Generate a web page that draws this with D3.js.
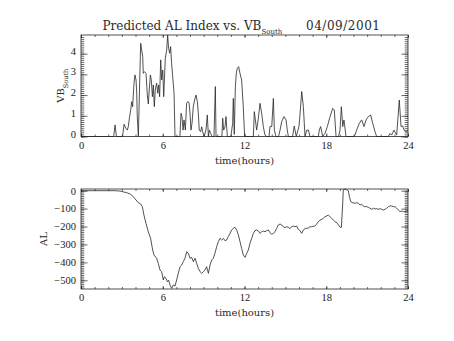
<!DOCTYPE html>
<html><head><meta charset="utf-8">
<script src="https://cdn.jsdelivr.net/npm/d3@7"></script>
<style>
html,body{margin:0;padding:0;background:#fff;}
svg{display:block;}
.tk text{font-family:"Liberation Serif",serif;font-size:10.5px;fill:#222;}
</style></head><body>
<svg id="c" width="454" height="341"></svg>
<script>
// ---- data ----
const titleMain = "Predicted AL Index vs. VB";
const titleSub = "South";
const titleDate = "04/09/2001";
const xLabel = "time(hours)";
const xMajorTicks = [0, 6, 12, 18, 24];
const vbTicks = [0, 1, 2, 3, 4];
const alTicks = [0, -100, -200, -300, -400, -500];

const vbHours = [0,2.4,2.5,2.6,3.05,3.16,3.30,3.40,3.47,3.55,3.65,3.72,3.79,3.89,3.96,4.04,4.09,4.13,4.21,4.28,4.33,4.38,4.45,4.53,4.57,4.65,4.77,4.87,4.94,5.01,5.09,5.16,5.24,5.31,5.38,5.45,5.55,5.63,5.70,5.77,5.85,5.92,6.0,6.07,6.12,6.19,6.29,6.36,6.43,6.51,6.58,6.65,6.73,6.83,6.90,7.26,7.34,7.41,7.49,7.56,7.66,7.75,7.83,7.93,8.0,8.07,8.15,8.24,8.34,8.44,8.54,8.61,8.68,8.78,8.86,8.93,9.03,9.17,9.27,9.35,9.42,9.52,9.61,9.76,9.86,9.91,10.34,10.40,10.47,10.57,10.64,10.74,11.0,11.13,11.18,11.25,11.33,11.40,11.47,11.57,11.67,11.79,11.91,12.01,12.65,12.72,12.80,12.89,13.0,13.14,13.26,13.38,13.50,13.63,13.80,13.87,14.0,14.12,14.19,14.31,14.5,14.61,14.73,14.90,15.05,15.14,15.22,15.53,15.65,15.8,16.0,16.07,16.2,16.32,16.44,16.57,16.69,16.81,17.42,17.49,17.59,17.74,17.91,18.08,18.28,18.47,18.59,18.72,18.9,19.01,19.11,19.21,19.30,19.45,20.0,20.11,20.23,20.43,20.6,20.77,20.92,21.09,21.26,21.41,21.58,21.70,22.56,22.68,22.80,22.97,23.17,23.36,23.49,23.61,23.71,23.83,24.0];
const vbValues = [0,0,0.56,0,0,0.59,0.39,0.31,0.47,0.88,1.28,1.68,1.44,2.57,2.97,2.73,2.09,0.96,0,1.92,3.21,4.50,4.18,3.86,3.05,3.13,3.05,2.0,1.57,2.25,2.97,2.73,1.92,2.49,1.44,2.25,2.57,2.09,2.49,1.92,3.70,2.73,3.21,1.92,2.73,3.78,4.18,4.90,4.26,4.02,4.34,3.53,2.89,2.09,0,0,1.12,0.96,0.31,0.80,0.31,1.60,1.68,1.63,1.12,0.31,0.64,1.44,1.76,2.0,1.68,1.12,0.31,0.23,0.47,0.23,0,0.31,1.04,0,0.31,0.15,0,0,2.41,0,0,0.88,0.31,0.47,0.96,0,0,0.64,1.84,0.1,2.4,3.05,3.29,3.37,3.05,2.73,1.44,0,0,1.20,0.80,0.31,0.80,1.60,1.12,0.48,0.07,0,0,0.48,0.48,1.84,0.31,0,0,0.31,0.72,0.96,0.80,0.31,0,0,0.5,0,0.5,1.04,2.17,1.44,0,0.31,0.31,0,0,0.31,0.48,0,0.15,0.48,0.96,1.36,1.28,0,0,0.31,1.44,0.48,0.80,0,0,0.07,0.31,0.64,0.80,0.48,0.80,0.96,1.04,0.64,0.23,0,0,0.15,0.07,0.31,0.07,1.76,0.48,0.51,0.31,0.23,0.3];

const alHours = [0,2.5,2.86,3.35,3.60,3.84,4.04,4.21,4.38,4.50,4.62,4.77,4.94,5.11,5.26,5.36,5.55,5.67,5.80,5.92,6.04,6.12,6.24,6.34,6.43,6.53,6.65,6.78,6.90,7.02,7.14,7.27,7.39,7.51,7.63,7.76,7.88,8.0,8.12,8.25,8.37,8.49,8.61,8.74,8.86,8.98,9.10,9.22,9.35,9.47,9.59,9.71,9.83,9.96,10.08,10.2,10.32,10.45,10.57,10.69,10.81,10.94,11.06,11.18,11.3,11.43,11.55,11.67,11.79,11.91,12.04,12.16,12.28,12.4,12.53,12.65,12.77,12.89,13.02,13.14,13.26,13.38,13.51,13.63,13.75,13.87,14.0,14.12,14.24,14.36,14.48,14.61,14.73,14.85,14.97,15.1,15.22,15.34,15.46,15.58,15.71,15.83,15.95,16.07,16.2,16.32,16.44,16.56,16.68,16.81,16.93,17.05,17.17,17.3,17.42,17.54,17.66,17.79,17.91,18.03,18.15,18.28,18.4,18.52,18.64,18.77,18.89,19.01,19.11,19.21,19.25,19.38,19.5,19.62,19.7,19.79,19.94,20.11,20.23,20.36,20.48,20.6,20.72,20.84,20.97,21.09,21.21,21.33,21.46,21.58,21.7,21.82,21.95,22.07,22.19,22.31,22.43,22.56,22.68,22.8,22.92,23.05,23.17,23.29,23.41,23.53,23.66,23.78,24];
const alValues = [0,0,-2,-11,-18,-33,-52,-67,-74,-89,-136,-182,-229,-266,-331,-359,-377,-405,-443,-452,-498,-480,-489,-508,-499,-526,-545,-526,-532,-498,-461,-424,-415,-396,-377,-340,-350,-377,-372,-396,-377,-405,-433,-452,-461,-452,-443,-424,-461,-415,-387,-377,-350,-312,-284,-266,-275,-266,-279,-275,-256,-238,-219,-210,-204,-219,-247,-284,-322,-359,-372,-350,-331,-294,-266,-238,-223,-219,-225,-238,-229,-225,-229,-223,-219,-234,-243,-238,-229,-210,-191,-186,-191,-201,-206,-201,-204,-212,-201,-197,-201,-197,-216,-223,-238,-219,-212,-210,-208,-201,-201,-199,-197,-186,-173,-164,-160,-154,-145,-141,-136,-145,-154,-164,-173,-178,-191,-204,-204,-70,5,9,5,0,-33,-61,-67,-70,-67,-70,-80,-76,-85,-89,-89,-93,-98,-104,-98,-102,-100,-104,-100,-104,-108,-104,-98,-89,-85,-85,-89,-89,-98,-108,-117,-113,-117,-117,-112];

// ---- layout ----
const svg = d3.select("#c");
const L = 81, R = 408;
const top1 = 35, bot1 = 136.5, top2 = 189, bot2 = 289;
const ink = "#262626";
const txt = "#2a2a2a";

const x1 = d3.scaleLinear().domain([0, 24]).range([L, R]);
const y1 = d3.scaleLinear().domain([0, 4.9]).range([bot1, top1]);
const y2 = d3.scaleLinear().domain([-548.5, 9.5]).range([bot2, top2]);

function panel(y, top, bot, majors, minors, labelDy, dataX, dataY) {
  const g = svg.append("g");
  const yLen = 0.02 * (R - L), xLen = 3;
  // bottom
  g.append("g").attr("class","tk").attr("transform",`translate(0,${bot})`)
    .call(d3.axisBottom(x1).tickValues(xMajorTicks).tickSizeInner(-xLen).tickSizeOuter(0).tickPadding(5).tickFormat(d3.format("d")));
  g.append("g").attr("class","tk").attr("transform",`translate(0,${bot})`)
    .call(d3.axisBottom(x1).tickValues(d3.range(0,25,1)).tickSizeInner(-2).tickSizeOuter(0).tickFormat(""));
  // top
  g.append("g").attr("class","tk").attr("transform",`translate(0,${top})`)
    .call(d3.axisTop(x1).tickValues(xMajorTicks).tickSizeInner(-xLen).tickSizeOuter(0).tickFormat(""));
  g.append("g").attr("class","tk").attr("transform",`translate(0,${top})`)
    .call(d3.axisTop(x1).tickValues(d3.range(0,25,1)).tickSizeInner(-2).tickSizeOuter(0).tickFormat(""));
  // left
  const la = g.append("g").attr("class","tk").attr("transform",`translate(${L},0)`)
    .call(d3.axisLeft(y).tickValues(majors).tickSizeInner(-yLen).tickSizeOuter(0).tickPadding(5).tickFormat(d3.format("d")));
  la.selectAll("text").attr("dy", labelDy);
  g.append("g").attr("class","tk").attr("transform",`translate(${L},0)`)
    .call(d3.axisLeft(y).tickValues(minors).tickSizeInner(-yLen/2).tickSizeOuter(0).tickFormat(""));
  // right
  g.append("g").attr("class","tk").attr("transform",`translate(${R},0)`)
    .call(d3.axisRight(y).tickValues(majors).tickSizeInner(-yLen).tickSizeOuter(0).tickFormat(""));
  g.append("g").attr("class","tk").attr("transform",`translate(${R},0)`)
    .call(d3.axisRight(y).tickValues(minors).tickSizeInner(-yLen/2).tickSizeOuter(0).tickFormat(""));
  g.selectAll(".domain").remove();
  g.selectAll(".tick line").attr("stroke", ink).attr("stroke-width", 0.7);
  // frame
  g.append("rect").attr("x", L).attr("y", top).attr("width", R-L).attr("height", bot-top)
    .attr("fill","none").attr("stroke", ink).attr("stroke-width", 0.8);
  // data
  const line = d3.line().x((d,i)=>x1(dataX[i])).y((d,i)=>y(dataY[i]));
  g.append("path").datum(dataY).attr("d", line).attr("fill","none")
    .attr("stroke", ink).attr("stroke-width", 0.8).attr("stroke-linejoin","round");
  // x title
  g.append("text").attr("x", (L+R)/2).attr("y", bot + 27).attr("text-anchor","middle")
    .attr("font-family","DejaVu Serif").attr("font-size", 10).attr("fill", txt).text(xLabel);
}

panel(y1, top1, bot1, vbTicks, d3.range(0, 49).map(d=>d/10), "0.05em", vbHours, vbValues);
panel(y2, top2, bot2, alTicks, d3.range(-540, 1, 10), "0.32em", alHours, alValues);

// title
const t = svg.append("text").attr("x", 102.5).attr("y", 29.5)
  .attr("font-family","DejaVu Serif").attr("font-size", 12).attr("fill", txt);
t.append("tspan").text(titleMain);
t.append("tspan").attr("dy", 4.5).attr("font-size", 7).text(titleSub);
svg.append("text").attr("x", 306).attr("y", 29.5).attr("textLength", 74)
  .attr("font-family","DejaVu Serif").attr("font-size", 12).attr("fill", txt).text(titleDate);

// y titles
const yt1 = svg.append("text").attr("transform", `translate(64,${(top1+bot1)/2}) rotate(-90)`)
  .attr("text-anchor","middle").attr("font-family","DejaVu Serif").attr("font-size", 10).attr("fill", txt);
yt1.append("tspan").text("VB");
yt1.append("tspan").attr("dy", 3.5).attr("font-size", 6.5).text(titleSub);
svg.append("text").attr("transform", `translate(47,${(top2+bot2)/2}) rotate(-90)`)
  .attr("text-anchor","middle").attr("font-family","DejaVu Serif").attr("font-size", 10).attr("fill", txt).text("AL");
</script></body></html>
